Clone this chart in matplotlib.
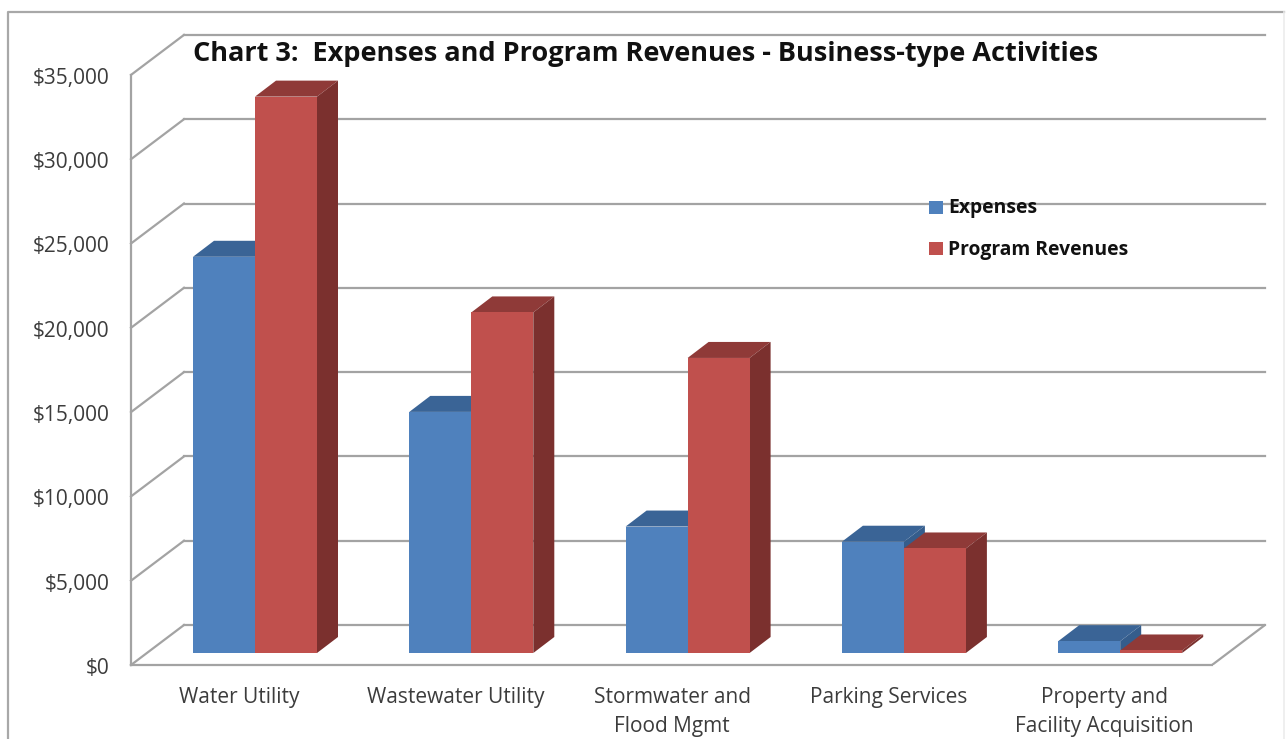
import matplotlib
matplotlib.use("Agg")
import matplotlib.pyplot as plt
from matplotlib.patches import Polygon, Rectangle
from matplotlib.lines import Line2D
from matplotlib.transforms import ScaledTranslation

categories = ["Water Utility", "Wastewater Utility", "Stormwater and\nFlood Mgmt",
              "Parking Services", "Property and\nFacility Acquisition"]
expenses = [23500, 14300, 7500, 6600, 700]
revenues = [33000, 20200, 17500, 6200, 150]
y_ticks = [0, 5000, 10000, 15000, 20000, 25000, 30000, 35000]

W, H = 1286, 739
LEFT, RIGHT, TOP, BOTTOM = 131, 1265, 35, 665
CAT_STEP = 216.3
CAT_X0 = 239.5
PX_PER_DOLLAR = 84.3 / 5000

plt.rcParams["font.family"] = ["Open Sans", "DejaVu Sans"]

fig = plt.figure(figsize=(W / 100, H / 100), dpi=100)
ax = fig.add_axes([LEFT / W, 1 - BOTTOM / H, (RIGHT - LEFT) / W, (BOTTOM - TOP) / H])
ax.set_xlim((LEFT - CAT_X0) / CAT_STEP, (RIGHT - CAT_X0) / CAT_STEP)
ax.set_ylim(0, (BOTTOM - TOP) / PX_PER_DOLLAR)


def dx(px):
    return px / CAT_STEP


def dy(px):
    return px / PX_PER_DOLLAR


GRID = "#a3a3a3"
WALL_DX, WALL_DY = dx(53), dy(40)
x_left = ax.get_xlim()[0]
x_right = ax.get_xlim()[1]

# walls and floor
for v in y_ticks:
    ax.plot([x_left, x_left + WALL_DX], [v, v + WALL_DY], color=GRID, lw=1.6, zorder=1, clip_on=False)
    ax.plot([x_left + WALL_DX, x_right], [v + WALL_DY, v + WALL_DY], color=GRID, lw=1.6, zorder=1, clip_on=False)
ax.plot([x_left, x_right - WALL_DX], [0, 0], color=GRID, lw=1.6, zorder=1, clip_on=False)
ax.plot([x_right - WALL_DX, x_right], [0, WALL_DY], color=GRID, lw=1.6, zorder=1)

# 3d bars
BAR_W = dx(62)
SHIFT = dx(15.5)
BASE = dy(12)
DEPTH_X, DEPTH_Y = dx(21), dy(16)


def draw_bar(x, value, front, top, side, z):
    ax.bar(x, value, BAR_W, bottom=BASE, align="edge", color=front, zorder=z + 1, clip_on=False)
    y = BASE + value
    ax.add_patch(Polygon([(x, y), (x + BAR_W, y), (x + BAR_W + DEPTH_X, y + DEPTH_Y), (x + DEPTH_X, y + DEPTH_Y)],
                         facecolor=top, edgecolor="none", zorder=z))
    ax.add_patch(Polygon([(x + BAR_W, BASE), (x + BAR_W + DEPTH_X, BASE + DEPTH_Y),
                          (x + BAR_W + DEPTH_X, y + DEPTH_Y), (x + BAR_W, y)],
                         facecolor=side, edgecolor="none", zorder=z))


for i in range(len(categories)):
    draw_bar(i + SHIFT - BAR_W, expenses[i], "#4f81bd", "#3a6496", "#355d8c", 2 + i * 4)
    draw_bar(i + SHIFT, revenues[i], "#c0504d", "#8f3a38", "#7b302e", 4 + i * 4)

# axes
for name in ["top", "right", "bottom"]:
    ax.spines[name].set_visible(False)
ax.spines["left"].set_color(GRID)
ax.spines["left"].set_linewidth(1.6)
ax.spines["left"].set_bounds(0, 35000)
ax.patch.set_visible(False)
ax.set_yticks(y_ticks)
ax.set_yticklabels(["${:,}".format(v) for v in y_ticks])
ax.set_xticks(range(len(categories)))
ax.set_xticklabels(categories, linespacing=1.47)
ax.tick_params(axis="y", length=0, pad=15.5, labelsize=15, labelcolor="#3c3c3c")
ax.tick_params(axis="x", length=0, pad=16, labelsize=15, labelcolor="#3c3c3c")
nudge = ScaledTranslation(0, -1 / 100, fig.dpi_scale_trans)
for label in ax.get_yticklabels():
    label.set_transform(label.get_transform() + nudge)

# title, legend, chart frame
fig.text(193 / W, 1 - 54 / H, "Chart 3:  Expenses and Program Revenues - Business-type Activities",
         fontsize=19.55, fontweight="bold", color="#111111", va="center", ha="left")

legend_y = [207, 248]
legend_names = ["Expenses", "Program Revenues"]
legend_colors = ["#4f81bd", "#c0504d"]
for py, name, color in zip(legend_y, legend_names, legend_colors):
    fig.add_artist(Rectangle((929 / W, 1 - (py + 6.5) / H), 14 / W, 13 / H, transform=fig.transFigure,
                             facecolor=color, edgecolor="none", zorder=20))
    fig.text(948 / W, 1 - (py + 1.5) / H, name, fontsize=13.9, fontweight="bold", color="#111111", va="center", ha="left", zorder=20)

frame_top = 1 - 11.5 / H
fig.add_artist(Line2D([7.5 / W, 7.5 / W, 1284 / W], [0, frame_top, frame_top], color="#a8a8a8", lw=1.6))
fig.add_artist(Line2D([1284 / W, 1284 / W], [frame_top, 0], color="#ececec", lw=1.2))

fig.savefig("out.png", dpi=100, facecolor="white")
